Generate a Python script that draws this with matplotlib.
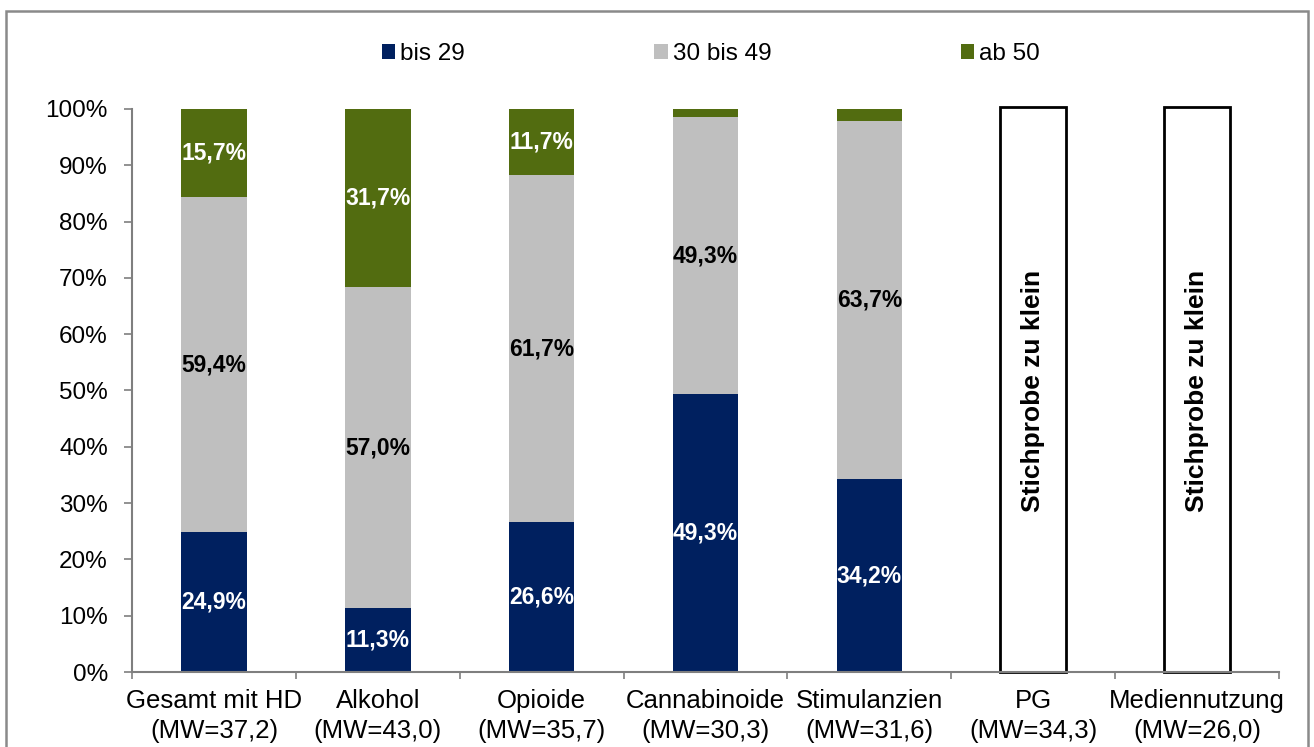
import matplotlib
matplotlib.use("Agg")
import matplotlib.pyplot as plt
from matplotlib.patches import Rectangle, Patch
import numpy as np

plt.rcParams["font.family"] = ["Liberation Sans", "DejaVu Sans"]

categories = ["Gesamt mit HD\n(MW=37,2)", "Alkohol\n(MW=43,0)", "Opioide\n(MW=35,7)",
              "Cannabinoide\n(MW=30,3)", "Stimulanzien\n(MW=31,6)", "PG\n(MW=34,3)",
              "Mediennutzung\n(MW=26,0)"]
series = ["bis 29", "30 bis 49", "ab 50"]
bis29 = [24.9, 11.3, 26.6, 49.3, 34.2, 0, 0]
mid = [59.4, 57.0, 61.7, 49.3, 63.7, 0, 0]
ab50 = [15.7, 31.7, 11.7, 1.4, 2.1, 0, 0]
too_small = [False, False, False, False, False, True, True]

colors = ["#00205F", "#BFBFBF", "#526C10"]
label_colors = ["white", "black", "white"]

fig = plt.figure(figsize=(13.14, 7.47), dpi=100)
ax = fig.add_axes([0.1005, 0.1004, 0.8729, 0.7537])

x = np.arange(len(categories))
w = 0.4
bottom = np.zeros(len(categories))
for vals, col, lc in zip([bis29, mid, ab50], colors, label_colors):
    vals = np.array(vals)
    ax.bar(x, vals, w, bottom=bottom, color=col, edgecolor="none", zorder=2)
    for xi, v, b in zip(x, vals, bottom):
        if v >= 5:
            ax.text(xi, b + v / 2, f"{v:.1f}%".replace(".", ","), ha="center", va="center",
                    color=lc, fontsize=16.5, fontweight="bold", zorder=3)
    bottom += vals

# categories with too few cases: empty outlined box
for xi, flag in zip(x, too_small):
    if flag:
        ax.bar(xi, 100.4, w, color="white", edgecolor="black", linewidth=2,
               zorder=2, clip_on=False)
        ax.text(xi, 50, "Stichprobe zu klein", rotation=90, ha="center", va="center",
                fontsize=19, fontweight="bold", zorder=3)

ax.set_xlim(-0.5, len(categories) - 0.5)
ax.set_ylim(0, 100)
ax.set_yticks(np.arange(0, 101, 10))
ax.set_yticklabels([f"{v}%" for v in range(0, 101, 10)], fontsize=17.5)
ax.set_xticks(x)
ax.set_xticklabels(categories, fontsize=18.5, linespacing=1.35)
ax.tick_params(axis="x", length=0, pad=12)
ax.set_xticks(np.arange(-0.5, len(categories), 1), minor=True)
ax.tick_params(axis="x", which="minor", length=5, width=1.2, color="#7f7f7f", direction="out")
ax.tick_params(axis="y", length=5.5, width=1.2, color="#7f7f7f", direction="out", pad=12)
for s in ["top", "right"]:
    ax.spines[s].set_visible(False)
for s in ["left", "bottom"]:
    ax.spines[s].set_color("#7f7f7f")
    ax.spines[s].set_linewidth(1.5)

handles = [Patch(facecolor=c, edgecolor="none") for c in colors]
fig.legend(handles, series, loc="center", bbox_to_anchor=(0.541, 0.928), ncol=3,
           frameon=False, fontsize=17.5, handlelength=0.55, handleheight=0.55,
           handletextpad=0.2, columnspacing=7.8)

# outer frame around the chart
fig.patches.append(Rectangle((0.0049, -0.05), 0.9909, 1.0353, transform=fig.transFigure,
                             fill=False, edgecolor="#8a8a8a", linewidth=1.8))

fig.savefig("out.png", dpi=100)
